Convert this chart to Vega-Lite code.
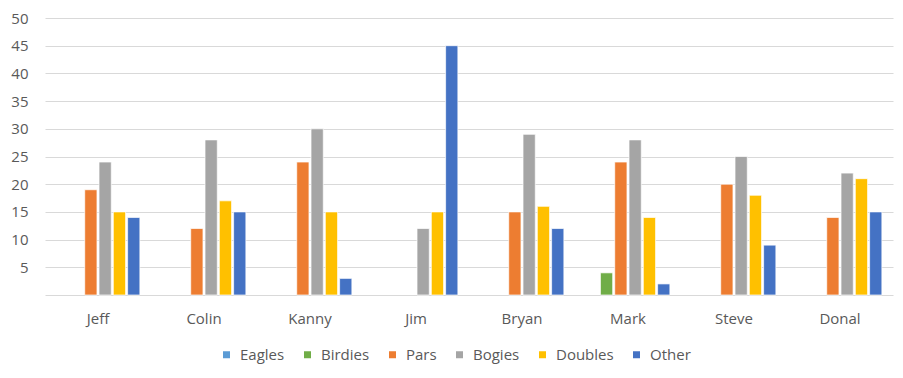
{
  "$schema": "https://vega.github.io/schema/vega-lite/v6.json",
  "width": 848,
  "height": 277,
  "autosize": {"type": "none"},
  "padding": {"left": 45, "top": 18, "right": 10, "bottom": 83},
  "background": "white",
  "config": {
    "view": {"stroke": null},
    "font": "Open Sans",
    "axis": {"labelFont": "Open Sans", "labelColor": "#595959", "labelFontSize": 14},
    "legend": {"labelFont": "Open Sans", "labelColor": "#595959", "labelFontSize": 14}
  },
  "data": {
    "values": [
      {"player": "Jeff", "type": "Pars", "count": 19},
      {"player": "Jeff", "type": "Bogies", "count": 24},
      {"player": "Jeff", "type": "Doubles", "count": 15},
      {"player": "Jeff", "type": "Other", "count": 14},
      {"player": "Colin", "type": "Pars", "count": 12},
      {"player": "Colin", "type": "Bogies", "count": 28},
      {"player": "Colin", "type": "Doubles", "count": 17},
      {"player": "Colin", "type": "Other", "count": 15},
      {"player": "Kanny", "type": "Pars", "count": 24},
      {"player": "Kanny", "type": "Bogies", "count": 30},
      {"player": "Kanny", "type": "Doubles", "count": 15},
      {"player": "Kanny", "type": "Other", "count": 3},
      {"player": "Jim", "type": "Bogies", "count": 12},
      {"player": "Jim", "type": "Doubles", "count": 15},
      {"player": "Jim", "type": "Other", "count": 45},
      {"player": "Bryan", "type": "Pars", "count": 15},
      {"player": "Bryan", "type": "Bogies", "count": 29},
      {"player": "Bryan", "type": "Doubles", "count": 16},
      {"player": "Bryan", "type": "Other", "count": 12},
      {"player": "Mark", "type": "Birdies", "count": 4},
      {"player": "Mark", "type": "Pars", "count": 24},
      {"player": "Mark", "type": "Bogies", "count": 28},
      {"player": "Mark", "type": "Doubles", "count": 14},
      {"player": "Mark", "type": "Other", "count": 2},
      {"player": "Steve", "type": "Pars", "count": 20},
      {"player": "Steve", "type": "Bogies", "count": 25},
      {"player": "Steve", "type": "Doubles", "count": 18},
      {"player": "Steve", "type": "Other", "count": 9},
      {"player": "Donal", "type": "Pars", "count": 14},
      {"player": "Donal", "type": "Bogies", "count": 22},
      {"player": "Donal", "type": "Doubles", "count": 21},
      {"player": "Donal", "type": "Other", "count": 15}
    ]
  },
  "mark": {"type": "bar", "stroke": "white", "strokeWidth": 0.7},
  "encoding": {
    "x": {
      "field": "player",
      "type": "nominal",
      "sort": ["Jeff", "Colin", "Kanny", "Jim", "Bryan", "Mark", "Steve", "Donal"],
      "scale": {"paddingInner": 0.21, "paddingOuter": 0.105},
      "axis": {"title": null, "labelAngle": 0, "domain": false, "ticks": false, "labelPadding": 16, "labelFontSize": 15}
    },
    "xOffset": {
      "field": "type",
      "type": "nominal",
      "scale": {"domain": ["Eagles", "Birdies", "Pars", "Bogies", "Doubles", "Other"], "paddingInner": 0.143, "paddingOuter": 0}
    },
    "y": {
      "field": "count",
      "type": "quantitative",
      "scale": {"domain": [0, 50], "nice": false},
      "axis": {
        "title": null,
        "values": [0, 5, 10, 15, 20, 25, 30, 35, 40, 45, 50],
        "labelExpr": "datum.value == 0 ? '' : datum.label",
        "domain": false,
        "ticks": false,
        "labelPadding": 17,
        "labelFontSize": 15,
        "gridColor": "#D9D9D9",
        "gridWidth": 1
      }
    },
    "color": {
      "field": "type",
      "type": "nominal",
      "scale": {
        "domain": ["Eagles", "Birdies", "Pars", "Bogies", "Doubles", "Other"],
        "range": ["#5B9BD5", "#70AD47", "#ED7D31", "#A5A5A5", "#FFC000", "#4472C4"]
      },
      "legend": {
        "title": null,
        "orient": "none",
        "direction": "horizontal",
        "legendX": 174,
        "legendY": 329,
        "symbolType": "square",
        "symbolSize": 49,
        "symbolStrokeWidth": 0,
        "labelOffset": 6,
        "columnPadding": 15,
        "labelFontSize": 15
      }
    }
  }
}
